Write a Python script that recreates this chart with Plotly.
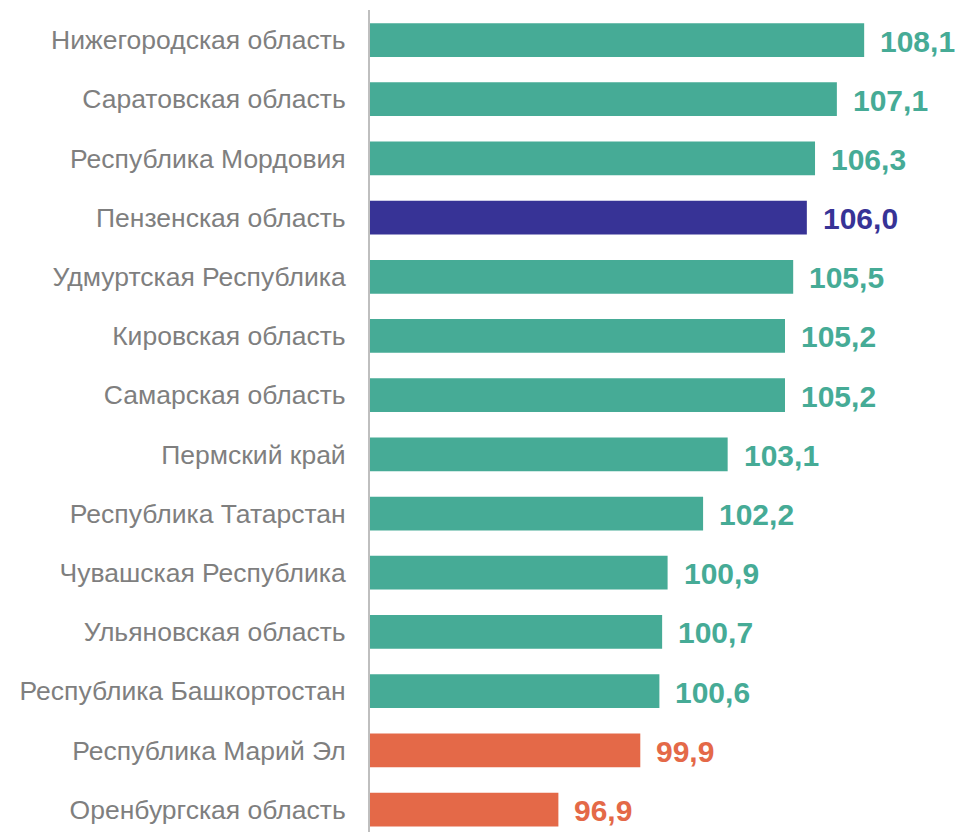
import plotly.graph_objects as go

categories = ["Нижегородская область", "Саратовская область", "Республика Мордовия",
              "Пензенская область", "Удмуртская Республика", "Кировская область",
              "Самарская область", "Пермский край", "Республика Татарстан",
              "Чувашская Республика", "Ульяновская область", "Республика Башкортостан",
              "Республика Марий Эл", "Оренбургская область"]
values = [108.1, 107.1, 106.3, 106.0, 105.5, 105.2, 105.2, 103.1, 102.2, 100.9, 100.7, 100.6, 99.9, 96.9]

TEAL = "#46AB96"
NAVY = "#373396"
ORANGE = "#E46948"
BASE = 90

def color_for(cat, v):
    if cat == "Пензенская область":
        return NAVY
    return ORANGE if v < 100 else TEAL

colors = [color_for(c, v) for c, v in zip(categories, values)]
labels = [f"{v:.1f}".replace(".", ",") for v in values]

fig = go.Figure(go.Bar(
    y=categories, x=[v - BASE for v in values], base=BASE, orientation="h",
    marker=dict(color=colors, line=dict(width=0)),
    width=0.57, hoverinfo="skip",
))

for c, v, lab, col in zip(categories, values, labels, colors):
    fig.add_annotation(
        x=v, y=c, text=f"<b>{lab}</b>", showarrow=False,
        xanchor="left", yanchor="middle", xshift=14, yshift=-1,
        font=dict(family="Liberation Sans, Arial", size=30, color=col),
    )

# page body has an 8px default margin, so the figure is sized to fill the rest
fig.update_layout(
    width=957, height=824,
    margin=dict(l=362, r=8, t=2, b=0, autoexpand=False),
    paper_bgcolor="white", plot_bgcolor="white",
    showlegend=False,
    font=dict(family="Liberation Sans, Arial", color="#7F7F7F"),
)
fig.update_xaxes(range=[BASE, 111.5], visible=False, automargin=False)
fig.update_yaxes(
    type="category", range=[13.38, -0.507], automargin=False,
    showline=True, linecolor="#BFBFBF", linewidth=2,
    showgrid=False, ticks="", ticklabelstandoff=17,
    tickfont=dict(size=26.5, color="#7F7F7F", family="Liberation Sans, Arial"),
)
fig.write_html("out.html")
